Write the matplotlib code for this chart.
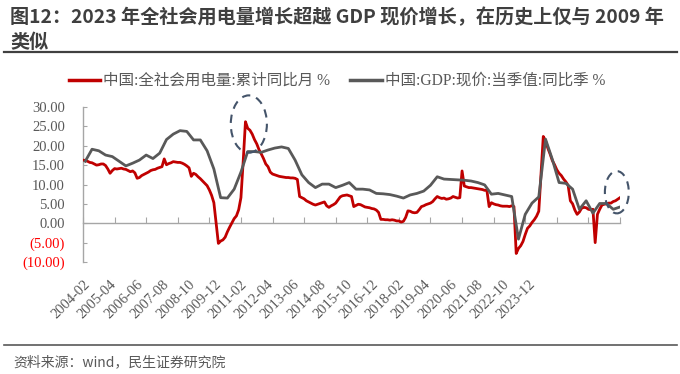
import numpy as np
import matplotlib.pyplot as plt
from matplotlib.lines import Line2D
from matplotlib.patches import Ellipse

# 中国:全社会用电量:累计同比 (%), 月度, 2004-02 ~ 2023-12
elec_2004 = [16.3, 16.2, 16.0, 15.7, 15.6, 15.3, 15.0, 15.1, 15.3, 15.3, 14.9]  # 2-12月
elec_2005 = [14.0, 12.9, 13.6, 14.1, 14.0, 14.1, 14.2, 14.0, 13.9, 13.6, 13.3, 13.5]
elec_2006 = [13.0, 11.6, 11.8, 12.3, 12.6, 12.9, 13.2, 13.6, 13.8, 13.9, 14.2, 14.4]
elec_2007 = [14.6, 16.6, 15.1, 15.4, 15.6, 15.9, 15.8, 15.7, 15.7, 15.5, 15.2, 14.8]
elec_2008 = [14.3, 12.1, 12.9, 12.6, 12.0, 11.5, 10.9, 10.3, 9.7, 8.6, 7.2, 5.3]
elec_2009 = [0.0, -5.2, -4.6, -4.3, -3.6, -2.2, -1.0, 0.1, 1.2, 1.9, 3.5, 6.6]
elec_2010 = [16.0, 26.2, 24.5, 24.0, 23.0, 21.6, 20.5, 19.0, 17.9, 16.7, 15.3, 14.6]
elec_2011 = [13.2, 12.7, 12.5, 12.3, 12.1, 12.0, 11.9, 11.8, 11.8, 11.7, 11.7, 11.6]
elec_2012 = [11.3, 6.9, 6.6, 6.3, 5.8, 5.5, 5.2, 4.9, 4.7, 4.9, 5.1, 5.3]
elec_2013 = [5.5, 4.5, 4.1, 4.5, 4.8, 5.2, 6.0, 6.8, 7.1, 7.2, 7.3, 7.1]
elec_2014 = [6.9, 4.3, 4.6, 4.9, 4.8, 4.5, 4.2, 4.1, 4.0, 3.8, 3.7, 3.4]
elec_2015 = [2.8, 1.0, 1.0, 0.9, 0.9, 0.8, 0.9, 0.8, 0.6, 0.6, 0.3, 0.5]
elec_2016 = [1.5, 3.2, 3.1, 2.8, 2.7, 2.8, 3.5, 4.3, 4.5, 4.8, 5.0, 5.2]
elec_2017 = [5.6, 6.3, 6.9, 6.6, 6.4, 6.5, 6.2, 6.3, 6.5, 6.9, 6.7, 6.5]
elec_2018 = [6.6, 13.5, 9.6, 9.4, 9.2, 9.2, 9.1, 9.0, 8.9, 8.8, 8.7, 8.5]
elec_2019 = [8.5, 4.3, 5.3, 5.0, 4.8, 4.7, 4.5, 4.4, 4.4, 4.4, 4.3, 4.5]
elec_2020 = [4.3, -7.8, -6.5, -5.8, -4.7, -2.9, -1.3, -0.7, 0.2, 0.9, 1.8, 3.1]
elec_2021 = [12.7, 22.4, 21.3, 19.4, 17.9, 16.2, 15.1, 13.8, 12.9, 12.3, 11.4, 10.7]
elec_2022 = [9.8, 5.8, 5.0, 3.4, 2.3, 2.9, 3.9, 4.1, 4.0, 3.6, 3.5, 3.6]
elec_2023 = [-5.0, 2.3, 3.6, 4.7, 4.9, 5.0, 5.2, 5.2, 5.6, 5.8, 6.2, 6.6]

# 中国:GDP:现价:当季值:同比 (%), 季度, 2004Q1 ~ 2023Q4
gdp_2004_2008 = [16.0, 19.1, 18.7, 17.6, 17.2, 16.0, 14.8, 15.5, 16.3, 17.6, 16.7, 18.1,
                 21.6, 23.0, 23.9, 23.7, 21.5, 21.5, 18.7, 14.0]
gdp_2009_2013 = [6.6, 6.5, 8.8, 13.2, 18.5, 18.5, 18.3, 18.9, 19.4, 19.7, 19.3, 16.3,
                 12.5, 10.5, 9.2, 10.1, 10.1, 9.2, 9.8, 10.5]
gdp_2014_2018 = [8.8, 8.8, 8.6, 7.7, 7.6, 7.4, 7.0, 6.5, 7.3, 7.7, 8.3, 9.8,
                 12.0, 11.4, 11.3, 11.2, 11.1, 10.9, 10.5, 9.9]
gdp_2019_2023 = [7.5, 7.7, 7.3, 6.9, -4.1, 2.3, 5.2, 6.8, 21.7, 16.5, 10.5, 10.3,
                 8.8, 3.6, 5.8, 2.6, 5.1, 5.1, 3.6, 4.2]

xlabels = ['2004-02', '2005-04', '2006-06', '2007-08', '2008-10', '2009-12',
           '2011-02', '2012-04', '2013-06', '2014-08', '2015-10', '2016-12',
           '2018-02', '2019-04', '2020-06', '2021-08', '2022-10', '2023-12']

elec = np.array(elec_2004 + elec_2005 + elec_2006 + elec_2007 + elec_2008 + elec_2009
                + elec_2010 + elec_2011 + elec_2012 + elec_2013 + elec_2014 + elec_2015
                + elec_2016 + elec_2017 + elec_2018 + elec_2019 + elec_2020 + elec_2021
                + elec_2022 + elec_2023)
gdp = np.array(gdp_2004_2008 + gdp_2009_2013 + gdp_2014_2018 + gdp_2019_2023)

m_elec = np.arange(len(elec))          # 月序号, 0 = 2004-02
m_gdp = 1 + 3 * np.arange(len(gdp))    # 季末月

cjk = ['Noto Sans CJK SC', 'DejaVu Sans']
serif_cjk = ['Liberation Serif', 'Noto Sans CJK SC']
red = '#C00000'
gray = '#595959'
axis_gray = '#A6A6A6'

fig = plt.figure(figsize=(6.8, 3.74), dpi=100)
ax = fig.add_axes([83 / 680, 1 - 262 / 374, (620 - 83) / 680, 155 / 374])

ax.plot(m_elec, elec, color=red, lw=2.0, label='中国:全社会用电量:累计同比月 %', zorder=3)
ax.plot(m_gdp, gdp, color=gray, lw=2.0, label='中国:GDP:现价:当季值:同比季 %', zorder=3)

ax.set_xlim(0, 238)
ax.set_ylim(-10, 30)
ax.set_yticks(np.arange(-10, 31, 5))
ax.set_yticklabels([f'{v:.2f}' if v >= 0 else f'({-v:.2f})' for v in np.arange(-10, 31, 5)],
                   family='Liberation Serif', fontsize=10.5)
for lbl, v in zip(ax.get_yticklabels(), np.arange(-10, 31, 5)):
    lbl.set_color('#FF0000' if v < 0 else gray)

ax.set_xticks(np.arange(0, 239, 14))
ax.tick_params(axis='x', direction='in', length=4, color=axis_gray, labelbottom=False)
ax.tick_params(axis='y', direction='in', length=3, color=axis_gray, pad=13)

for s in ['top', 'right']:
    ax.spines[s].set_visible(False)
ax.spines['bottom'].set_position(('data', 0))
ax.spines['bottom'].set_color(axis_gray)
ax.spines['left'].set_color(axis_gray)
ax.spines['bottom'].set_linewidth(1.0)
ax.spines['left'].set_linewidth(1.0)

# x 轴标签 (原图标签间距与刻度不一致)
label_step = 11.6
for k, t in enumerate(xlabels):
    ax.text(0.3 + k * label_step, -0.1, t, transform=ax.get_xaxis_transform(),
            rotation=45, rotation_mode='anchor', ha='right', va='top',
            family='Liberation Serif', fontsize=10.5, color=gray)

# 虚线圈
for (cx, cy, w, h) in [(73.5, 25.6, 16, 14.8), (236.6, 8.0, 10.6, 10.9)]:
    ax.add_patch(Ellipse((cx, cy), w, h, fill=False, ls=(0, (4, 3)), lw=1.5,
                         ec='#44546A', clip_on=False, zorder=4))

leg = fig.legend(loc='center left', bbox_to_anchor=(69 / 680, 1 - 81 / 374), ncol=2,
                 frameon=False, borderpad=0, borderaxespad=0, handlelength=2.0,
                 handletextpad=0.2, columnspacing=1.3, prop={'family': serif_cjk, 'size': 11.2})
for t in leg.get_texts():
    t.set_color(gray)
for h in leg.get_lines():
    h.set_linewidth(2.5)

fig.text(10 / 680, 1 - 17 / 374, '图12：2023 年全社会用电量增长超越 GDP 现价增长，在历史上仅与 2009 年',
         family=cjk, fontsize=13.8, fontweight='bold', color='#3F3F3F', va='center')
fig.text(10 / 680, 1 - 42 / 374, '类似', family=cjk, fontsize=13.8, fontweight='bold',
         color='#3F3F3F', va='center')
fig.add_artist(Line2D([4 / 680, 677 / 680], [1 - 52 / 374] * 2, color='#404040', lw=1.6))
fig.add_artist(Line2D([4 / 680, 677 / 680], [1 - 345 / 374] * 2, color='#595959', lw=1.2))
fig.text(13 / 680, 1 - 362 / 374, '资料来源：wind，民生证券研究院', family=cjk, fontsize=10,
         color=gray, va='center')

fig.savefig('out.png', dpi=100)
